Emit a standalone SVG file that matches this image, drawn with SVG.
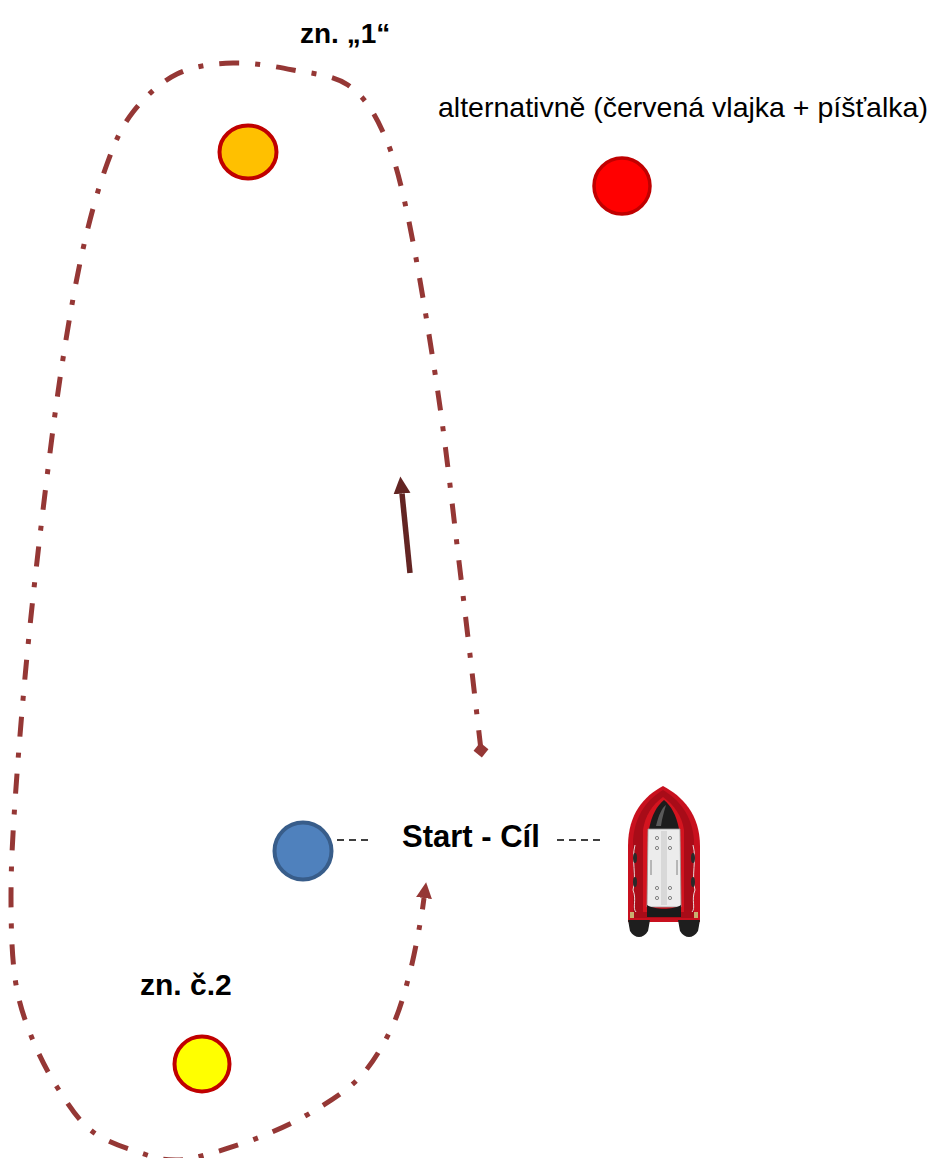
<svg xmlns="http://www.w3.org/2000/svg" width="940" height="1158" viewBox="0 0 940 1158">
<style>
.lbl{font-family:"Liberation Sans",Arial,sans-serif;fill:#000}
.b{font-weight:bold}
.buoy{stroke-width:4}
.course{fill:none;stroke:#953735;stroke-width:5;stroke-dasharray:20 16 5 16;stroke-linecap:butt}
.tick{stroke:#000;stroke-width:1.5;stroke-dasharray:7 5}
</style>
<defs>
<marker id="tri" markerUnits="userSpaceOnUse" markerWidth="18" markerHeight="18" viewBox="0 0 18 18" refX="0" refY="9" orient="auto">
<path d="M0 1 L16 9 L0 17 Z" fill="#953735"/>
</marker>
<marker id="dia" markerUnits="userSpaceOnUse" markerWidth="16" markerHeight="16" viewBox="0 0 16 16" refX="8" refY="8" orient="auto">
<path d="M0.5 8 L8 0.5 L15.5 8 L8 15.5 Z" fill="#953735"/>
</marker>
<marker id="darrow" markerUnits="userSpaceOnUse" markerWidth="18" markerHeight="18" viewBox="0 0 18 18" refX="0" refY="9" orient="auto">
<path d="M0 0.5 L17 9 L0 17.5 Z" fill="#632523"/>
</marker>
</defs>
<rect width="940" height="1158" fill="#fff"/>

<g id="connectors">
<path class="course" marker-start="url(#dia)" marker-end="url(#tri)" d="M481 750 C477.5 720 467.2 629.5 460 570 C452.8 510.5 446.7 451.8 438 393 C429.3 334.2 417.2 260.5 408 217 C398.8 173.5 393 154 383 132 C373 110 363 95.3 348 85 C333 74.7 312.2 73.7 293 70 C273.8 66.3 252.3 62.3 233 63 C213.7 63.7 193.7 65.8 177 74 C160.3 82.2 144.7 97 133 112 C121.3 127 115.3 141.2 107 164 C98.7 186.8 90.5 215.5 83 249 C75.5 282.5 68.7 321.5 62 365 C55.3 408.5 48.8 461.5 43 510 C37.2 558.5 31.7 607.3 27 656 C22.3 704.7 17.7 761.8 15 802 C12.3 842.2 11 867.7 11 897 C11 926.3 11.8 955.3 15 978 C18.2 1000.7 23 1014.8 30 1033 C37 1051.2 46.5 1070.5 57 1087 C67.5 1103.5 78 1120.7 93 1132 C108 1143.3 133.2 1150.3 147 1155 C160.8 1159.7 166.3 1160 176 1160 C185.7 1160 191 1158.8 205 1155 C219 1151.2 242.2 1144.2 260 1137 C277.8 1129.8 295.3 1122 312 1112 C328.7 1102 346.7 1091.2 360 1077 C373.3 1062.8 383.7 1044.5 392 1027 C400.3 1009.5 405 991 410 972 C415 953 419.7 925.3 422 913 L424 898"/>
<line x1="410" y1="573" x2="402" y2="493.5" stroke="#632523" stroke-width="5.5" marker-end="url(#darrow)"/>
<line class="tick" x1="337" y1="840" x2="368" y2="840"/>
<line class="tick" x1="557" y1="840" x2="601" y2="840"/>
</g>

<g id="mark-1">
<ellipse class="buoy" cx="248" cy="152" rx="28.5" ry="26.5" fill="#FFC000" stroke="#C00000"/>
<text class="lbl b" x="300" y="43" font-size="28">zn. „1“</text>
</g>

<g id="mark-alt">
<circle cx="622" cy="186" r="28" fill="#FF0000" stroke="#C00000" stroke-width="3.5"/>
<text class="lbl" x="438" y="117" font-size="28.5">alternativně (červená vlajka + píšťalka)</text>
</g>

<g id="mark-2">
<circle class="buoy" cx="202" cy="1064" r="27.5" fill="#FFFF00" stroke="#C00000" stroke-width="4.5"/>
<text class="lbl b" x="140" y="995" font-size="30">zn. č.2</text>
</g>

<g id="start-buoy">
<circle class="buoy" cx="303" cy="851" r="28.5" fill="#4F81BD" stroke="#385D8A"/>
</g>

<g id="start-label">
<text class="lbl b" x="402" y="847" font-size="31">Start - Cíl</text>
</g>

<g id="boat">
<path d="M663 786 C682 796 700 814 700 846 L700 922 L628 922 L628 846 C628 814 644 796 663 786 Z" fill="#C8101E"/>
<path d="M663 790 C678 799 692 814 694 840 L694 918 L633 918 L633 840 C635 814 648 799 663 790 Z" fill="#A80C18"/>
<path d="M663 797 C674 805 682 816 684 830 L684 912 L643 912 L643 830 C645 816 652 805 663 797 Z" fill="#D4141F"/>
<path d="M649 829 C652 814 657 806 664 800 C671 806 676 814 679 829 Z" fill="#1C1C1C"/>
<path d="M656 826 C659 814 662 808 666 805 C664 812 662 818 661 826 Z" fill="#5a5a5a"/>
<path d="M648 829 L680 829 L681 907 L647 907 Z" fill="#ECECEC" stroke="#999" stroke-width="0.8"/>
<rect x="661" y="831" width="6" height="74" fill="#D8D8D8"/>
<g fill="none" stroke="#777" stroke-width="0.9">
<circle cx="657" cy="838" r="1.6"/><circle cx="670" cy="838" r="1.6"/>
<circle cx="657" cy="848" r="1.6"/><circle cx="670" cy="848" r="1.6"/>
<circle cx="657" cy="888" r="1.6"/><circle cx="670" cy="888" r="1.6"/>
<circle cx="657" cy="898" r="1.6"/><circle cx="670" cy="898" r="1.6"/>
<line x1="651" y1="860" x2="651" y2="875"/><line x1="677" y1="860" x2="677" y2="875"/>
</g>
<path d="M635 845 C631 860 637 875 633 890 C637 900 632 908 636 912" fill="none" stroke="#e8d8d8" stroke-width="1"/>
<path d="M693 845 C697 860 691 875 695 890 C691 900 696 908 692 912" fill="none" stroke="#e8d8d8" stroke-width="1"/>
<g fill="#2a2a2a">
<ellipse cx="635" cy="858" rx="2" ry="5"/><ellipse cx="693" cy="858" rx="2" ry="5"/>
<ellipse cx="635" cy="882" rx="2" ry="5"/><ellipse cx="693" cy="882" rx="2" ry="5"/>
</g>
<path d="M647 905 C655 910 673 910 681 905 L681 917 L647 917 Z" fill="#1A1A1A"/>
<rect x="630" y="912" width="4" height="6" fill="#C9B070"/>
<rect x="694" y="912" width="4" height="6" fill="#C9B070"/>
<path d="M628 920 L650 920 L648 931 C643 939 635 939 630 931 Z" fill="#1E1E1E"/>
<path d="M678 920 L700 920 L698 931 C693 939 685 939 680 931 Z" fill="#1E1E1E"/>
</g>
</svg>
